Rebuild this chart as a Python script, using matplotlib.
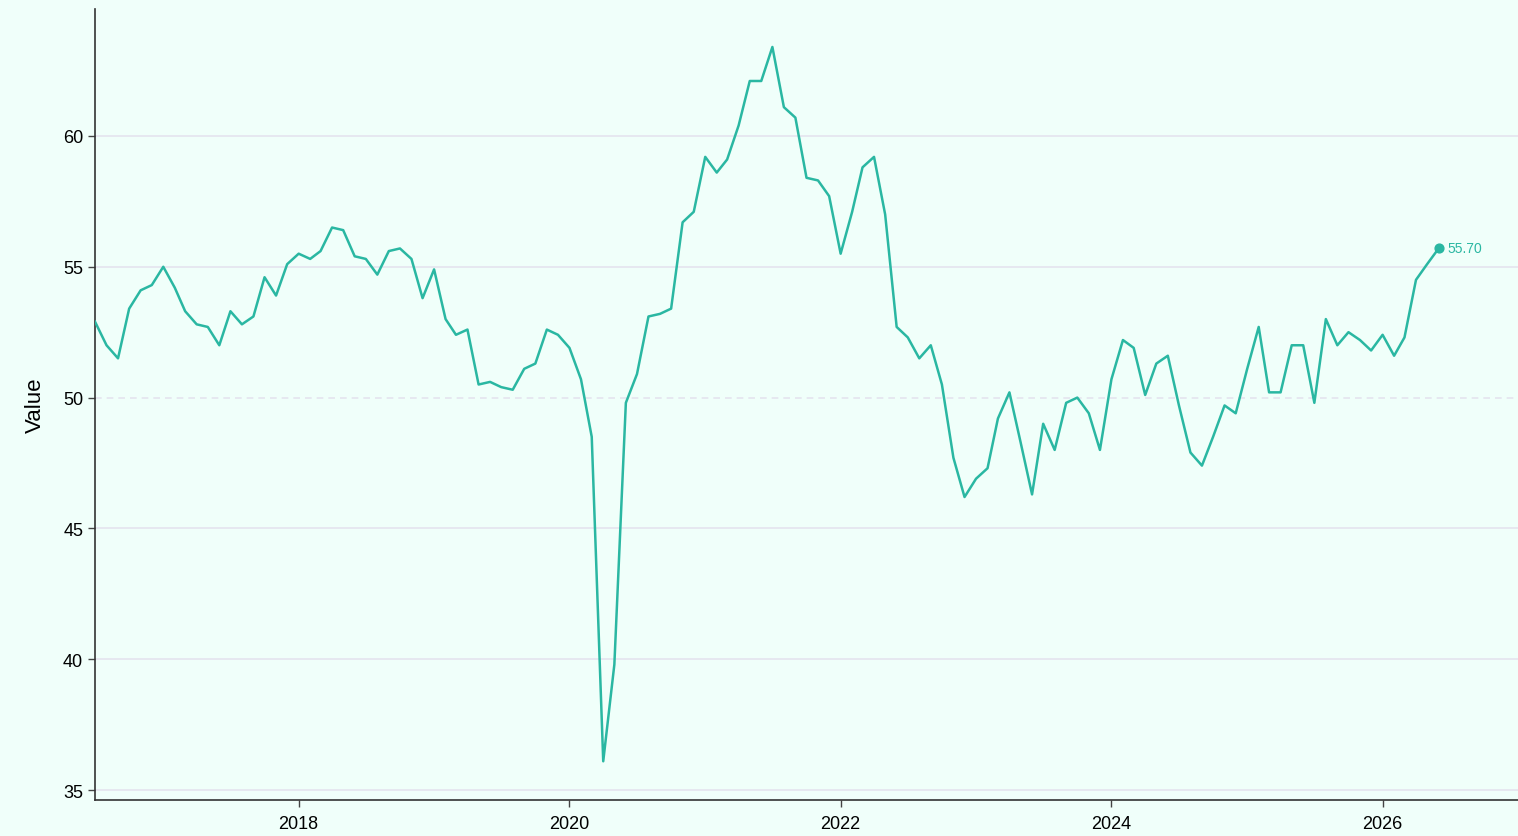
import matplotlib
matplotlib.use("Agg")
import matplotlib.pyplot as plt
import matplotlib.dates as mdates
import pandas as pd

# monthly readings, Jul 2016 - Jun 2026
start_month = "2016-07-01"
values = [
    52.9, 52.0, 51.5, 53.4, 54.1, 54.3, 55.0, 54.2, 53.3, 52.8, 52.7, 52.0,
    53.3, 52.8, 53.1, 54.6, 53.9, 55.1, 55.5, 55.3, 55.6, 56.5, 56.4, 55.4,
    55.3, 54.7, 55.6, 55.7, 55.3, 53.8, 54.9, 53.0, 52.4, 52.6, 50.5, 50.6,
    50.4, 50.3, 51.1, 51.3, 52.6, 52.4, 51.9, 50.7, 48.5, 36.1, 39.8, 49.8,
    50.9, 53.1, 53.2, 53.4, 56.7, 57.1, 59.2, 58.6, 59.1, 60.4, 62.1, 62.1,
    63.4, 61.1, 60.7, 58.4, 58.3, 57.7, 55.5, 57.1, 58.8, 59.2, 57.0, 52.7,
    52.3, 51.5, 52.0, 50.5, 47.7, 46.2, 46.9, 47.3, 49.2, 50.2, 48.3, 46.3,
    49.0, 48.0, 49.8, 50.0, 49.4, 48.0, 50.7, 52.2, 51.9, 50.1, 51.3, 51.6,
    49.7, 47.9, 47.4, 48.5, 49.7, 49.4, 51.1, 52.7, 50.2, 50.2, 52.0, 52.0,
    49.8, 53.0, 52.0, 52.5, 52.2, 51.8, 52.4, 51.6, 52.3, 54.5, 55.1, 55.7,
]
y_ticks = [35, 40, 45, 50, 55, 60]

dates = pd.date_range(start_month, periods=len(values), freq="MS")

bg = "#f0fffa"
teal = "#2ab7a2"

plt.rcParams["font.family"] = ["Liberation Sans", "DejaVu Sans"]

fig = plt.figure(figsize=(15.18, 8.37), dpi=100, facecolor=bg)
ax = fig.add_axes([0.0626, 0.043, 0.9374, 0.945])
ax.set_facecolor(bg)

ax.plot(dates, values, color=teal, linewidth=1.8, zorder=3)
ax.scatter([dates[-1]], [values[-1]], color=teal, s=40, zorder=4)
ax.annotate(f"{values[-1]:.2f}", (dates[-1], values[-1]), xytext=(6, 0),
            textcoords="offset points", va="center", ha="left",
            color=teal, fontsize=10)

# grid
for t in y_ticks:
    ls = (0, (4, 3)) if t == 50 else "-"
    ax.axhline(t, color="#e4e4ef", linewidth=1.2, linestyle=ls, zorder=1)

ax.set_yticks(y_ticks)
ax.set_ylim(34.62, 64.85)
ax.set_xlim(dates[0], pd.Timestamp("2027-01-01"))
ax.xaxis.set_major_locator(mdates.YearLocator(2))
ax.xaxis.set_major_formatter(mdates.DateFormatter("%Y"))

ax.set_ylabel("Value", fontsize=16, labelpad=12)
ax.tick_params(labelsize=13, color="#444444", length=5, width=1)
ax.tick_params(axis="x", pad=6)

for side in ["top", "right"]:
    ax.spines[side].set_visible(False)
for side in ["left", "bottom"]:
    ax.spines[side].set_color("#333333")
    ax.spines[side].set_linewidth(1.2)

fig.savefig("out.png", dpi=100, facecolor=bg)
